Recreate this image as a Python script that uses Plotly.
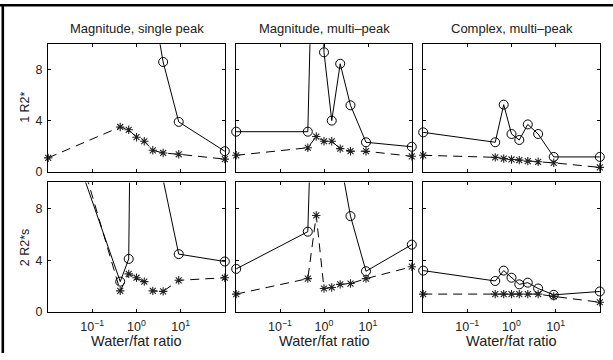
import numpy as np
import plotly.graph_objects as go

# Water/fat ratios (fat fractions 99%,70%,60%,50%,40%,30%,20%,10%,1%)
ratio = [0.0101, 0.4286, 0.6667, 1.0, 1.5, 2.3333, 4.0, 9.0, 99.0]

col_titles = ["Magnitude, single peak", "Magnitude, multi\u2013peak", "Complex, multi\u2013peak"]
row_labels = ["1 R2*", "2 R2*s"]
x_title = "Water/fat ratio"
x_tickvals = [0.1, 1, 10]
x_ticktext = ["10<sup>\u22121</sup>", "10<sup>0</sup>", "10<sup>1</sup>"]
y_tickvals = [0, 4, 8]

# Row 1 (R2*)
r1_single_circ = [40, 35, 30, 25, 18, 13.3, 8.6, 3.9, 1.6]
r1_single_star = [1.08, 3.5, 3.28, 2.7, 2.38, 1.67, 1.46, 1.36, 0.98]
r1_multi_circ = [3.13, 3.13, 30, 9.36, 4.0, 8.46, 5.2, 2.3, 1.95]
r1_multi_star = [1.28, 1.87, 2.75, 2.38, 2.38, 1.8, 1.6, 1.6, 1.2]
r1_cplx_circ = [3.08, 2.3, 5.25, 2.95, 2.48, 3.7, 2.95, 1.15, 1.15]
r1_cplx_star = [1.28, 1.12, 1.02, 0.95, 0.9, 0.82, 0.77, 0.69, 0.33]
# Row 2 (R2*s)
r2_single_circ = [18.3, 2.35, 4.1, 60, 40, 25, 10.2, 4.47, 3.9]
r2_single_star = [20.5, 1.64, 2.95, 2.65, 2.35, 1.64, 1.6, 2.45, 2.65]
r2_multi_circ = [3.33, 6.2, 28, 20, 15, 11.8, 7.4, 3.15, 5.2]
r2_multi_star = [1.39, 2.58, 7.45, 1.82, 1.9, 2.14, 2.2, 2.58, 3.5]
r2_cplx_circ = [3.2, 2.4, 3.2, 2.65, 2.14, 2.27, 1.82, 1.33, 1.59]
r2_cplx_star = [1.39, 1.39, 1.39, 1.39, 1.39, 1.39, 1.39, 1.21, 0.76]

panels = [
    (r1_single_circ, r1_single_star),
    (r1_multi_circ, r1_multi_star),
    (r1_cplx_circ, r1_cplx_star),
    (r2_single_circ, r2_single_star),
    (r2_multi_circ, r2_multi_star),
    (r2_cplx_circ, r2_cplx_star),
]

W, H = 613, 360
YMAX = 10
col_px = [(48, 225), (236, 412), (423, 600)]
row_px = [(45, 175), (186, 318.3)]

fig = go.Figure()
FONT = "Liberation Sans, Arial, sans-serif"
x_arr = np.array(ratio)

for i, (circ, star) in enumerate(panels):
    n = i + 1
    xa = "x" if n == 1 else f"x{n}"
    ya = "y" if n == 1 else f"y{n}"
    c = np.array(circ)
    s = np.array(star)
    fig.add_trace(go.Scatter(x=ratio, y=circ, mode="lines", xaxis=xa, yaxis=ya,
                             line=dict(color="black", width=1), showlegend=False, hoverinfo="skip"))
    fig.add_trace(go.Scatter(x=ratio, y=star, mode="lines", xaxis=xa, yaxis=ya,
                             line=dict(color="black", width=1, dash="9px,6px"), showlegend=False,
                             hoverinfo="skip"))
    mc = c <= YMAX
    ms = s <= YMAX
    fig.add_trace(go.Scatter(x=x_arr[mc], y=c[mc], mode="markers", xaxis=xa, yaxis=ya, cliponaxis=False,
                             marker=dict(symbol="circle-open", size=9, color="black",
                                         line=dict(color="black", width=1)), showlegend=False))
    fig.add_trace(go.Scatter(x=x_arr[ms], y=s[ms], mode="markers", xaxis=xa, yaxis=ya, cliponaxis=False,
                             marker=dict(symbol="asterisk-open", size=7, color="#222",
                                         line=dict(color="#222", width=1.1)), showlegend=False))

layout = dict(
    width=W, height=H, margin=dict(l=0, r=0, t=0, b=0),
    paper_bgcolor="white", plot_bgcolor="white",
    font=dict(family=FONT, size=12, color="#222"),
)

for i in range(6):
    n = i + 1
    r, cidx = divmod(i, 3)
    x0, x1 = col_px[cidx]
    y0, y1 = row_px[r]
    xkey = "xaxis" if n == 1 else f"xaxis{n}"
    ykey = "yaxis" if n == 1 else f"yaxis{n}"
    ya = "y" if n == 1 else f"y{n}"
    xa = "x" if n == 1 else f"x{n}"
    layout[xkey] = dict(
        domain=[x0 / W, x1 / W], anchor=ya, type="log", range=[-2, 2],
        tickvals=x_tickvals, ticktext=x_ticktext, showticklabels=(r == 1),
        ticks="inside", ticklen=3, tickcolor="black", showline=True, linecolor="black",
        linewidth=1, mirror="ticks", showgrid=False, zeroline=False, ticklabelstandoff=3,
        tickfont=dict(size=12.5, family=FONT, color="#222"),
    )
    layout[ykey] = dict(
        domain=[1 - y1 / H, 1 - y0 / H], anchor=xa, range=[0, YMAX],
        tickvals=y_tickvals, showticklabels=(cidx == 0),
        ticks="inside", ticklen=3, tickcolor="black", showline=True, linecolor="black",
        linewidth=1, mirror="ticks", showgrid=False, zeroline=False, ticklabelstandoff=2,
        tickfont=dict(size=12.5, family=FONT, color="#222"),
    )

annotations = []
for cidx, t in enumerate(col_titles):
    x0, x1 = col_px[cidx]
    annotations.append(dict(text=t, x=(x0 + x1) / 2 / W, y=1 - 29 / H, xref="paper", yref="paper",
                            showarrow=False, xanchor="center", yanchor="middle",
                            font=dict(size=13, family=FONT, color="#222")))
    annotations.append(dict(text=x_title, x=(x0 + x1) / 2 / W, y=1 - 348 / H, xref="paper", yref="paper",
                            showarrow=False, xanchor="center", yanchor="middle",
                            font=dict(size=14.5, family=FONT, color="#222")))
for r, t in enumerate(row_labels):
    y0, y1 = row_px[r]
    annotations.append(dict(text=t, x=25 / W, y=1 - (y0 + y1) / 2 / H, xref="paper", yref="paper",
                            showarrow=False, xanchor="center", yanchor="middle", textangle=-90,
                            font=dict(size=12.5, family=FONT, color="#222")))
layout["annotations"] = annotations

layout["shapes"] = [
    dict(type="line", xref="paper", yref="paper", x0=0, x1=1, y0=1 - 5.3 / H, y1=1 - 5.3 / H,
         line=dict(color="black", width=2.6)),
    dict(type="line", xref="paper", yref="paper", x0=2.8 / W, x1=2.8 / W, y0=0, y1=1 - 4 / H,
         line=dict(color="black", width=2.6)),
]

fig.update_layout(**layout)
fig.write_html("out.html", config={"displayModeBar": False},
               post_script="document.body.style.margin='0';document.body.style.overflow='hidden';")
